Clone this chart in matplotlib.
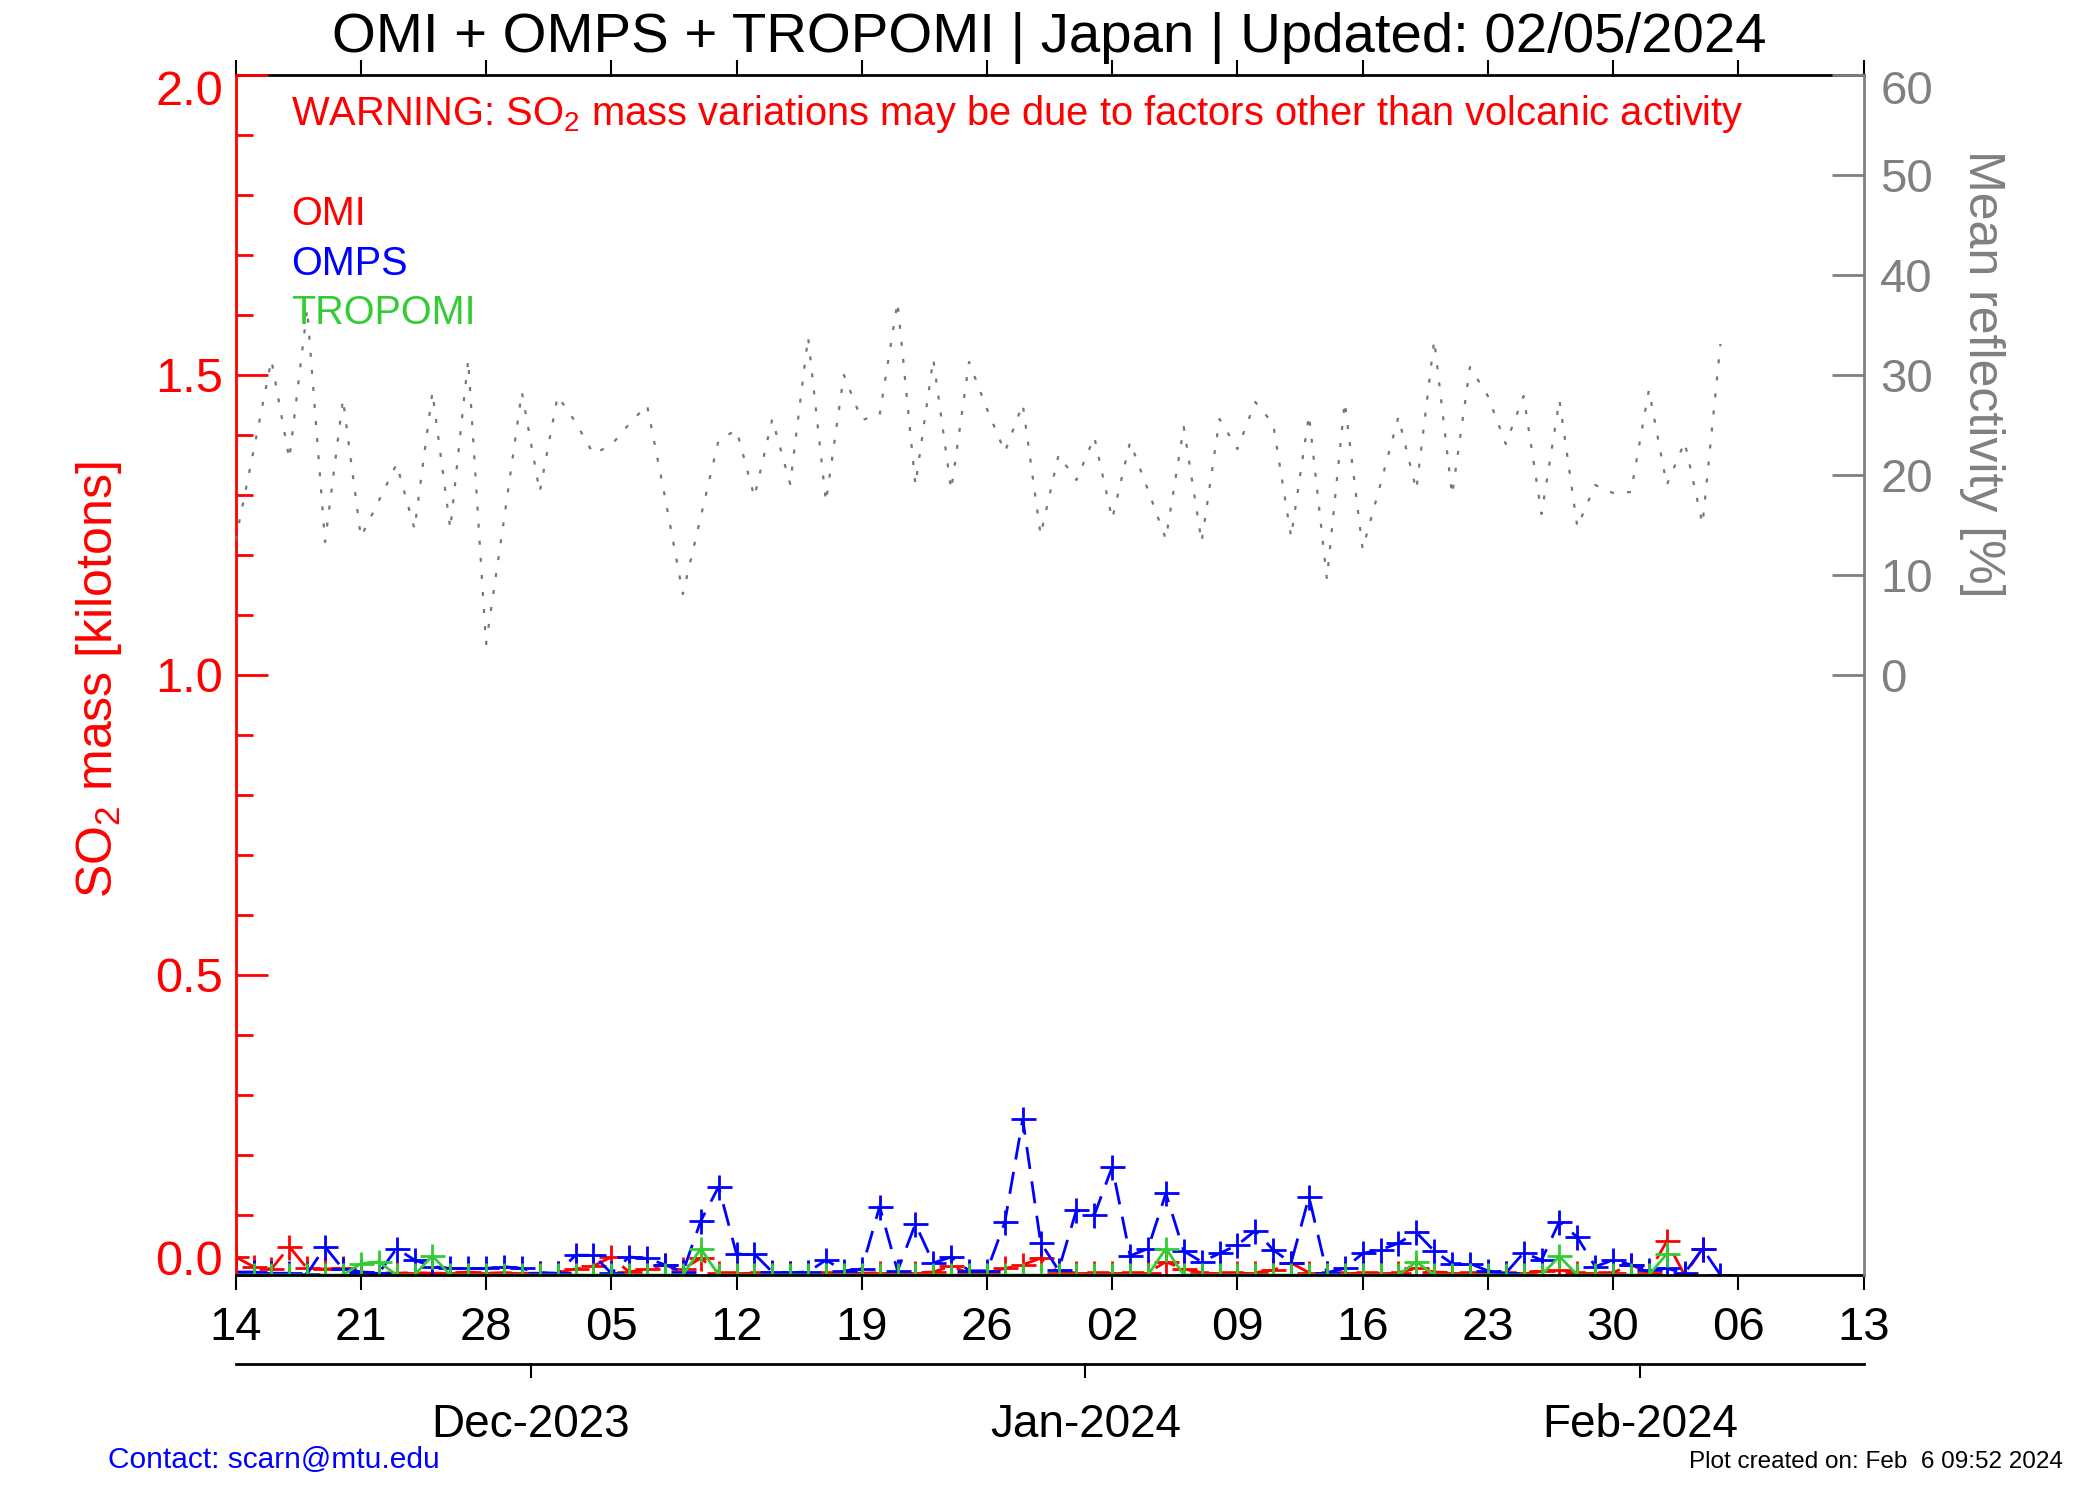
import numpy as np
import matplotlib.pyplot as plt
from matplotlib.ticker import MultipleLocator
from matplotlib.transforms import ScaledTranslation

plt.rcParams['font.family'] = ['Liberation Sans', 'DejaVu Sans']
plt.rcParams['mathtext.default'] = 'regular'

# days since 14 Nov 2023 (one value per day)
days = np.arange(84)

# mean reflectivity [%]
refl = [13.5, 22.4, 31.5, 21.6, 36.6, 13.3, 27.6, 13.8, 17.4, 21.1,
        14.6, 28.3, 14.6, 31.5, 3.1, 15.5, 28.3, 18.3, 27.9, 25.3,
        22.1, 23.0, 25.1, 27.0, 17.8, 8.1, 15.8, 23.5, 24.5, 17.8,
        25.6, 19.1, 33.8, 17.3, 30.0, 25.5, 26.0, 37.3, 19.0, 31.6,
        18.5, 31.3, 26.6, 22.3, 27.1, 14.0, 22.0, 19.5, 23.8, 15.6,
        23.3, 18.5, 13.6, 24.8, 13.3, 25.6, 22.6, 27.3, 25.1, 13.8,
        26.0, 9.6, 27.3, 12.6, 19.1, 25.8, 18.5, 33.5, 18.0, 30.8,
        27.9, 23.1, 27.9, 16.1, 27.5, 14.8, 19.0, 18.2, 18.3, 28.5,
        19.0, 23.3, 15.1, 33.1]

# SO2 mass [kt]
omi = [0.030, 0.014, 0.010, 0.047, 0.011, 0.010, 0.011, 0.005, 0.004, 0.003,
       0.004, 0.003, 0.003, 0.005, 0.003, 0.004, 0.003, 0.003, 0.004, 0.010,
       0.015, 0.030, 0.005, 0.010, 0.017, 0.010, 0.028, 0.004, 0.004, 0.004,
       0.004, 0.003, 0.004, 0.004, 0.004, 0.003, 0.004, 0.004, 0.004, 0.005,
       0.015, 0.003, 0.003, 0.011, 0.017, 0.028, 0.004, 0.004, 0.004, 0.004,
       0.004, 0.004, 0.022, 0.010, 0.004, 0.004, 0.004, 0.004, 0.008, 0.020,
       0.004, 0.004, 0.004, 0.004, 0.004, 0.004, 0.011, 0.005, 0.004, 0.004,
       0.004, 0.004, 0.004, 0.006, 0.008, 0.004, 0.004, 0.004, 0.017, 0.004,
       0.056, 0.000, 0.044]

omps = [0.005, 0.005, 0.003, 0.003, 0.002, 0.047, 0.010, 0.005, 0.003, 0.044,
        0.025, 0.014, 0.011, 0.011, 0.011, 0.014, 0.011, 0.004, 0.003, 0.033,
        0.033, 0.003, 0.030, 0.028, 0.017, 0.005, 0.090, 0.147, 0.035, 0.035,
        0.005, 0.004, 0.005, 0.025, 0.007, 0.010, 0.114, 0.007, 0.085, 0.020,
        0.030, 0.007, 0.007, 0.088, 0.260, 0.054, 0.008, 0.108, 0.100, 0.180,
        0.032, 0.044, 0.136, 0.040, 0.022, 0.036, 0.050, 0.074, 0.042, 0.020,
        0.130, 0.004, 0.011, 0.036, 0.042, 0.053, 0.071, 0.040, 0.019, 0.019,
        0.007, 0.003, 0.037, 0.025, 0.089, 0.063, 0.014, 0.025, 0.017, 0.008,
        0.011, 0.003, 0.044, 0.000]

tropomi = [0.0, 0.0, 0.0, 0.0, 0.0, 0.0, 0.0, 0.019, 0.022, 0.0,
           0.0, 0.032, 0.0, 0.0, 0.0, 0.0, 0.0, 0.0, 0.0, 0.0,
           0.0, 0.0, 0.0, 0.0, 0.0, 0.0, 0.044, 0.0, 0.0, 0.0,
           0.0, 0.0, 0.0, 0.0, 0.0, 0.0, 0.0, 0.0, 0.0, 0.0,
           0.0, 0.0, 0.0, 0.0, 0.0, 0.0, 0.0, 0.0, 0.0, 0.0,
           0.0, 0.0, 0.044, 0.0, 0.0, 0.0, 0.0, 0.0, 0.0, 0.0,
           0.0, 0.0, 0.0, 0.0, 0.0, 0.0, 0.022, 0.0, 0.0, 0.0,
           0.0, 0.0, 0.0, 0.0, 0.031, 0.0, 0.0, 0.0, 0.0, 0.0,
           0.035]

week_ticks = np.arange(0, 92, 7)
week_labels = ['14', '21', '28', '05', '12', '19', '26', '02', '09', '16',
               '23', '30', '06', '13']
month_ticks = [16.5, 47.5, 78.5]
month_labels = ['Dec-2023', 'Jan-2024', 'Feb-2024']

RED = '#ff0000'
BLUE = '#0000ff'
GREEN = '#32cd32'
GRAY = '#808080'

fig = plt.figure(figsize=(21, 15), dpi=100)
ax = fig.add_axes([0.1122, 0.15, 0.7752, 0.80])
axr = ax.twinx()
down = ScaledTranslation(0, -9 / 72, fig.dpi_scale_trans)

# reflectivity on the right axis
axr.plot(days, refl, color='#777777', lw=1.6, ls=(0, (1.8, 5.9)))
axr.set_ylim(-60, 60)
axr.set_yticks(range(0, 61, 10))
axr.tick_params(axis='y', direction='in', length=23, width=2, colors=GRAY,
                labelsize=34, pad=12)
for s in ['left', 'top', 'bottom']:
    axr.spines[s].set_visible(False)
axr.spines['right'].set_color(GRAY)
axr.spines['right'].set_linewidth(2)
top_r = axr.get_yticklabels()[-1]
top_r.set_transform(top_r.get_transform() + down)

# SO2 series
kw = dict(marker='+', ms=18, mew=2, lw=2)
ax.plot(days[:len(omi)], omi, color=RED, ls=(0, (8, 4.5)), **kw)
ax.plot(days[:len(omps)], omps, color=BLUE, ls=(0, (8, 4.5)), **kw)
ax.plot(days[:len(tropomi)], tropomi, color=GREEN, ls='-', **kw)

ax.set_xlim(0, 91)
ax.set_ylim(0, 2.0)
ax.set_xticks(week_ticks, week_labels)
ax.tick_params(axis='x', direction='out', length=11, width=1.5, top=True,
               bottom=True, labeltop=False, pad=11, labelsize=34)

ax.set_yticks([0, 0.5, 1.0, 1.5, 2.0], ['0.0', '0.5', '1.0', '1.5', '2.0'])
ax.yaxis.set_minor_locator(MultipleLocator(0.1))
ax.tick_params(axis='y', which='major', direction='in', length=23, width=2,
               colors=RED, labelsize=35, pad=9)
ax.tick_params(axis='y', which='minor', direction='in', length=12, width=2,
               color=RED)
ylbls = ax.get_yticklabels()
ylbls[0].set_va('baseline')
ylbls[-1].set_transform(ylbls[-1].get_transform() + down)

ax.spines['right'].set_visible(False)
ax.spines['left'].set_color(RED)
ax.spines['left'].set_linewidth(2)
ax.spines['top'].set_linewidth(2)
ax.spines['bottom'].set_linewidth(2)
ax.spines['top'].set_zorder(1)

# month axis below
axm = fig.add_axes([0.1122, 0.0907, 0.7752, 0.0001])
axm.set_xlim(0, 91)
axm.set_yticks([])
for s in ['left', 'right', 'top']:
    axm.spines[s].set_visible(False)
axm.spines['bottom'].set_linewidth(2)
axm.patch.set_visible(False)
axm.set_xticks(month_ticks, month_labels)
axm.tick_params(axis='x', direction='out', length=10, width=1.5, pad=18,
                labelsize=33)

# texts
fig.text(0.4998, 0.9653, 'OMI + OMPS + TROPOMI | Japan | Updated: 02/05/2024',
         ha='center', va='baseline', fontsize=40.6)
fig.text(0.1386, 0.9167,
         'WARNING: SO$_2$ mass variations may be due to factors other than volcanic activity',
         color=RED, fontsize=28.7, va='baseline')
fig.text(0.1386, 0.850, 'OMI', color=RED, fontsize=28.5, va='baseline')
fig.text(0.1386, 0.8167, 'OMPS', color=BLUE, fontsize=28.5, va='baseline')
fig.text(0.1386, 0.784, 'TROPOMI', color=GREEN, fontsize=28.5, va='baseline')
fig.text(0.047, 0.547, 'SO$_2$ mass [kilotons]', color=RED, fontsize=36,
         rotation=90, ha='center', va='center')
fig.text(0.944, 0.7507, 'Mean reflectivity [%]', color=GRAY, fontsize=36,
         rotation=-90, ha='center', va='center')
fig.text(0.0514, 0.0267, 'Contact: scarn@mtu.edu', color=BLUE, fontsize=21.5,
         va='center')
fig.text(0.9824, 0.025, 'Plot created on: Feb  6 09:52 2024', color='black',
         fontsize=17.5, ha='right', va='center')

fig.savefig('out.png', dpi=100)
